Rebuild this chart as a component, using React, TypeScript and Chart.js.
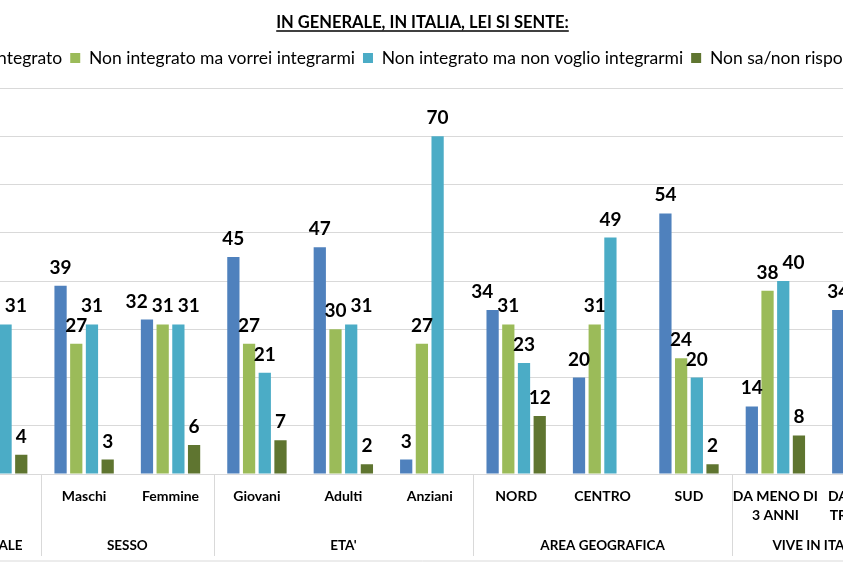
import React, { useEffect, useRef } from 'react';
import { Chart, registerables } from 'chart.js';

Chart.register(...registerables);

const categories: (string | string[])[] = [
  '',
  'Maschi',
  'Femmine',
  'Giovani',
  'Adulti',
  'Anziani',
  'NORD',
  'CENTRO',
  'SUD',
  ['DA MENO DI', '3 ANNI'],
  ["DA PIU' DI", 'TRE ANNI'],
];
const groupLabels = ['TOTALE', 'SESSO', "ETA'", 'AREA GEOGRAFICA', 'VIVE IN ITALIA'];
const groupSizes = [1, 2, 3, 3, 2];

const seriesNames = [
  'Integrato',
  'Non integrato ma vorrei integrarmi',
  'Non integrato ma non voglio integrarmi',
  'Non sa/non risponde',
];
const integrato = [35, 39, 32, 45, 47, 3, 34, 20, 54, 14, 34];
const vorrei = [29, 27, 31, 27, 30, 27, 31, 31, 24, 38, 26];
const nonVoglio = [31, 31, 31, 21, 31, 70, 23, 49, 20, 40, 31];
const nonSa = [4, 3, 6, 7, 2, null, 12, null, 2, 8, 5];
const seriesColors = ['#4F81BD', '#9BBB59', '#4BACC6', '#5F7530'];

const yMin = 0;
const yMax = 80;
const yStep = 10;

const titleText = 'IN GENERALE, IN ITALIA, LEI SI SENTE:';
const FONT = 'Lato';
const TITLE_SIZE = 16.5;

const dataLabelPlugin = {
  id: 'dataLabels',
  afterDatasetsDraw(chart: any) {
    const ctx = chart.ctx;
    ctx.save();
    ctx.font = `bold 19px ${FONT}`;
    ctx.fillStyle = '#000';
    ctx.textAlign = 'center';
    ctx.textBaseline = 'alphabetic';
    const n = chart.data.labels.length;
    for (let i = 0; i < n; i++) {
      const items: any[] = [];
      chart.data.datasets.forEach((ds: any, d: number) => {
        const v = ds.data[i];
        if (v == null) return;
        const el = chart.getDatasetMeta(d).data[i];
        const text = String(v);
        items.push({ v, x: el.x, y: el.y - 12, w: ctx.measureText(text).width, text });
      });
      for (let k = 0; k < items.length - 1; k++) {
        const a = items[k];
        const b = items[k + 1];
        if (Math.abs(a.y - b.y) < 17) {
          const sep = (a.w + b.w) / 2 + 4;
          if (b.x - a.x < sep) {
            if (a.v > b.v) a.x = b.x - sep;
            else b.x = a.x + sep;
          }
        }
      }
      items.forEach((it) => ctx.fillText(it.text, it.x, it.y));
    }
    ctx.restore();
  },
};

const decorPlugin = {
  id: 'decor',
  afterDraw(chart: any) {
    const ctx = chart.ctx;
    const area = chart.chartArea;
    const xs = chart.scales.x;
    const catW = (area.right - area.left) / chart.data.labels.length;
    ctx.save();
    // underline title
    const tb = chart.titleBlock;
    if (tb) {
      ctx.font = `bold ${TITLE_SIZE}px ${FONT}`;
      const w = ctx.measureText(titleText).width;
      const cx = (tb.left + tb.right) / 2;
      const y = tb.top + 31;
      ctx.strokeStyle = '#000';
      ctx.lineWidth = 1.3;
      ctx.beginPath();
      ctx.moveTo(cx - w / 2, y);
      ctx.lineTo(cx + w / 2, y);
      ctx.stroke();
    }
    // group separators and labels
    ctx.strokeStyle = '#D9D9D9';
    ctx.lineWidth = 1;
    ctx.font = `bold 13.5px ${FONT}`;
    ctx.fillStyle = '#000';
    ctx.textAlign = 'center';
    ctx.textBaseline = 'middle';
    let idx = 0;
    const bottom = area.bottom;
    const drawSep = (x: number) => {
      ctx.beginPath();
      ctx.moveTo(Math.round(x) + 0.5, bottom);
      ctx.lineTo(Math.round(x) + 0.5, bottom + 82);
      ctx.stroke();
    };
    groupSizes.forEach((size, g) => {
      const x0 = xs.getPixelForValue(idx) - catW / 2;
      const x1 = xs.getPixelForValue(idx + size - 1) + catW / 2;
      drawSep(x0);
      if (g === groupSizes.length - 1) drawSep(x1);
      ctx.fillText(groupLabels[g], (x0 + x1) / 2, bottom + 72);
      idx += size;
    });
    ctx.beginPath();
    ctx.moveTo(0, bottom + 87);
    ctx.lineTo(chart.width, bottom + 87);
    ctx.stroke();
    ctx.restore();
  },
};

export default function App() {
  const canvasRef = useRef<HTMLCanvasElement | null>(null);

  useEffect(() => {
    if (!canvasRef.current) return;
    const series = [integrato, vorrei, nonVoglio, nonSa];
    const chart = new Chart(canvasRef.current, {
      type: 'bar',
      data: {
        labels: categories,
        datasets: series.map((data, i) => ({
          label: seriesNames[i],
          data,
          backgroundColor: seriesColors[i],
          borderWidth: 0,
          categoryPercentage: 0.727,
          barPercentage: 0.78,
          xAxisID: 'x',
          yAxisID: 'y',
        })),
      },
      options: {
        responsive: false,
        animation: false,
        devicePixelRatio: 1,
        layout: { padding: 0 },
        plugins: {
          title: {
            display: true,
            text: titleText,
            color: '#000',
            font: { family: FONT, size: TITLE_SIZE, weight: 'bold', lineHeight: 1.2 },
            padding: { top: 13, bottom: 8.45 },
          },
          legend: {
            display: true,
            position: 'top',
            labels: {
              color: '#000',
              font: { family: FONT, size: 17.5 },
              boxWidth: 10,
              boxHeight: 10,
              padding: 8,
            },
          },
          tooltip: { enabled: false },
        },
        scales: {
          x: {
            type: 'category',
            position: 'bottom',
            grid: { display: false },
            border: { display: true, color: '#D9D9D9' },
            ticks: {
              color: '#000',
              font: { family: FONT, size: 14, weight: 'bold', lineHeight: 1.357 },
              padding: 4.5,
              maxRotation: 0,
              autoSkip: false,
            },
            afterFit: (s: any) => {
              s.height = 88;
            },
          },
          top: {
            type: 'category',
            position: 'top',
            display: true,
            grid: { display: false },
            border: { display: false },
            ticks: { display: false },
            afterFit: (s: any) => {
              s.height = 11.25;
            },
          },
          y: {
            min: yMin,
            max: yMax,
            ticks: { display: false, stepSize: yStep },
            grid: { color: '#D9D9D9', drawTicks: false },
            border: { display: false },
            afterFit: (s: any) => {
              s.width = 14.5;
            },
          },
        },
      } as any,
      plugins: [dataLabelPlugin, decorPlugin],
    });
    return () => chart.destroy();
  }, []);

  return (
    <div
      style={{
        position: 'fixed',
        left: -60,
        top: 0,
        width: 965,
        height: 562,
        background: '#fff',
      }}
    >
      <canvas ref={canvasRef} width={965} height={562} style={{ display: 'block' }} />
    </div>
  );
}
